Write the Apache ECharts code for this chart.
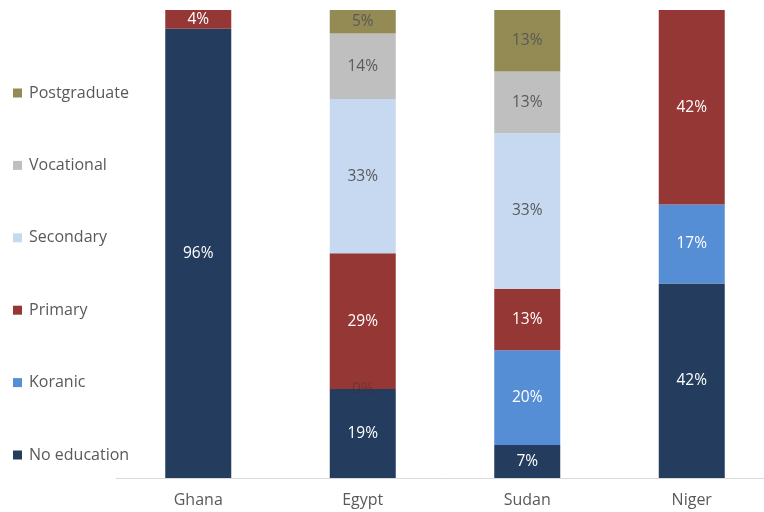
<!DOCTYPE html>
<html>
<head>
<meta charset="utf-8">
<style>
  html, body { margin: 0; padding: 0; background: #ffffff; }
  #chart { width: 764px; height: 512px; }
</style>
<script src="https://cdn.jsdelivr.net/npm/echarts@6/dist/echarts.min.js"></script>
</head>
<body>
<div id="chart"></div>
<script>
// Country columns
const countries = ['Ghana', 'Egypt', 'Sudan', 'Niger'];

// Share of respondents (%) per education level, bottom of stack first
const noEducation  = [96, 19, 7, 42];
const koranic      = [null, 0, 20, 17];
const primary      = [4, 29, 13, 42];
const secondary    = [null, 33, 33, null];
const vocational   = [null, 14, 13, null];
const postgraduate = [null, 5, 13, null];

const levels = [
  { name: 'No education', values: noEducation,  color: '#243c5e', text: '#ffffff' },
  { name: 'Koranic',      values: koranic,      color: '#558ed5', text: '#ffffff' },
  { name: 'Primary',      values: primary,      color: '#953735', text: '#ffffff' },
  { name: 'Secondary',    values: secondary,    color: '#c6d9f1', text: '#595959' },
  { name: 'Vocational',   values: vocational,   color: '#bfbfbf', text: '#595959' },
  { name: 'Postgraduate', values: postgraduate, color: '#948a54', text: '#595959' }
];

// Column totals, so every stack fills the full 100% height
const totals = countries.map((_, i) =>
  levels.reduce((s, l) => s + (l.values[i] || 0), 0));

const series = levels.map(l => ({
  name: l.name,
  type: 'bar',
  stack: 'share',
  barWidth: 66,
  itemStyle: { color: l.color },
  label: {
    show: true,
    position: 'inside',
    color: l.text,
    fontFamily: 'Open Sans',
    fontSize: 15.5,
    formatter: p => l.values[p.dataIndex] + '%'
  },
  data: l.values.map((v, i) => {
    if (v === null) return null;
    const item = { value: v * 100 / totals[i] };
    if (v === 0) item.label = { color: 'rgba(70,40,40,0.35)' };
    return item;
  })
}));

const chart = echarts.init(document.getElementById('chart'), null, { renderer: 'canvas' });
chart.setOption({
  animation: false,
  backgroundColor: '#ffffff',
  textStyle: { fontFamily: 'Open Sans' },
  grid: { left: 116, top: 10, width: 658, height: 468, outerBoundsMode: 'none' },
  legend: {
    orient: 'vertical',
    left: 13,
    top: 85,
    padding: 0,
    icon: 'rect',
    itemWidth: 9,
    itemHeight: 9,
    itemGap: 56.4,
    selectedMode: false,
    data: ['Postgraduate', 'Vocational', 'Secondary', 'Primary', 'Koranic', 'No education'],
    textStyle: { color: '#595959', fontSize: 16, lineHeight: 16, padding: [0, 0, 0, 2], fontFamily: 'Open Sans' }
  },
  xAxis: {
    type: 'category',
    data: countries,
    axisLine: { lineStyle: { color: '#d9d9d9', width: 1 } },
    axisTick: { show: false },
    axisLabel: { color: '#595959', fontSize: 16, margin: 14, fontFamily: 'Open Sans' }
  },
  yAxis: {
    type: 'value',
    min: 0,
    max: 100,
    show: false,
    splitLine: { show: false }
  },
  series: series
});
</script>
</body>
</html>
